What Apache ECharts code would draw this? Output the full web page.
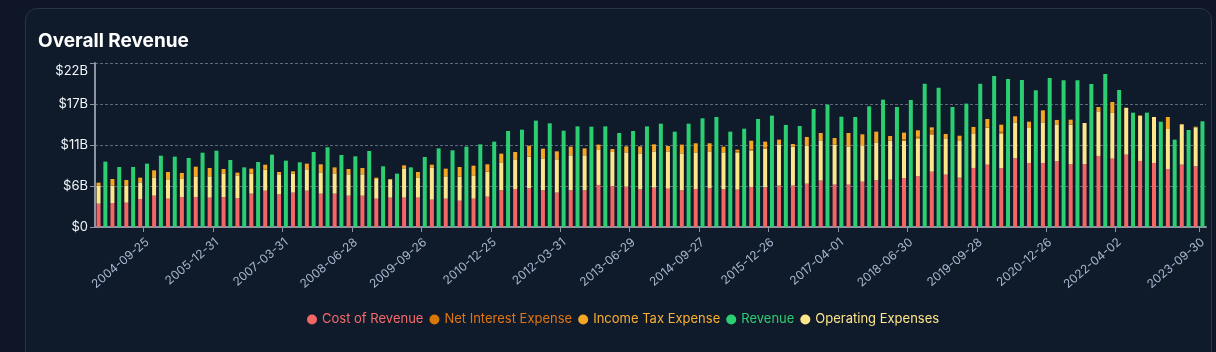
<!DOCTYPE html>
<html><head><meta charset="utf-8">
<script src="https://cdn.jsdelivr.net/npm/echarts@6/dist/echarts.min.js"></script>
<style>
html,body{margin:0;padding:0;background:#0e1627;width:1216px;height:352px;overflow:hidden;}
#card{position:absolute;left:25px;top:8px;width:1187px;height:370px;border:1px solid #283447;border-radius:12px;background:#0f1a2b;box-sizing:border-box;}
#chart{position:absolute;left:0;top:0;width:1216px;height:352px;}
</style></head><body>
<div id="card"></div><div id="chart"></div>
<script>
// Fiscal quarter end dates (categories)
const dates = ["2003-12-27","2004-03-27","2004-06-26","2004-09-25","2004-12-25","2005-04-02","2005-07-02","2005-10-01","2005-12-31","2006-04-01","2006-07-01","2006-09-30","2006-12-30","2007-03-31","2007-06-30","2007-09-29","2007-12-29","2008-03-29","2008-06-28","2008-09-27","2008-12-27","2009-03-28","2009-06-27","2009-09-26","2009-12-26","2010-03-27","2010-06-26","2010-09-25","2010-12-25","2011-04-02","2011-07-02","2011-10-01","2011-12-31","2012-03-31","2012-06-30","2012-09-29","2012-12-29","2013-03-30","2013-06-29","2013-09-28","2013-12-28","2014-03-29","2014-06-28","2014-09-27","2014-12-27","2015-03-28","2015-06-27","2015-09-26","2015-12-26","2016-04-02","2016-07-02","2016-10-01","2016-12-31","2017-04-01","2017-07-01","2017-09-30","2017-12-30","2018-03-31","2018-06-30","2018-09-29","2018-12-29","2019-03-30","2019-06-29","2019-09-28","2019-12-28","2020-03-28","2020-06-27","2020-09-26","2020-12-26","2021-03-27","2021-06-26","2021-09-25","2021-12-25","2022-04-02","2022-07-02","2022-10-01","2022-12-31","2023-04-01","2023-07-01","2023-09-30"];

// Values in billions of USD
const costOfRevenue = [3.13,3.22,3.26,3.76,4.20,3.80,4.02,4.02,3.94,4.02,3.85,4.47,4.87,4.38,4.61,4.87,4.47,4.47,4.20,4.20,3.80,3.94,3.94,3.94,3.67,3.80,3.53,3.80,4.07,4.92,5.10,5.19,4.92,4.61,4.92,4.92,5.64,5.50,5.41,5.05,5.28,5.14,4.92,5.10,5.19,5.05,5.01,5.37,5.32,5.55,5.55,5.81,6.22,5.68,5.68,6.08,6.26,6.35,6.57,6.80,7.42,7.02,6.62,7.92,8.36,7.87,9.21,8.59,8.59,8.81,8.41,8.45,9.53,9.17,9.70,8.86,8.59,7.74,8.36,8.14];
const operatingExpenses = [2.42,2.33,2.33,2.23,2.46,2.60,2.51,2.78,2.86,3.18,3.08,2.69,2.82,2.69,2.55,2.87,2.86,2.73,2.87,2.87,2.64,2.46,3.93,2.72,4.33,3.00,3.22,3.13,3.35,3.76,3.98,4.25,4.29,4.47,4.70,4.70,4.69,4.56,4.61,4.83,4.87,5.01,4.96,4.92,4.96,4.97,5.01,4.92,5.23,5.54,5.23,5.10,5.41,5.37,5.14,4.88,5.10,5.23,5.01,5.10,5.01,4.88,5.01,4.65,4.97,4.70,4.83,4.69,5.45,4.96,5.32,5.50,5.99,6.13,6.27,6.03,6.17,5.41,5.41,5.23];
const netInterestExpense = [0,0,0,0,0,0,0,0,0,0,0,0,0,0,0,0,0,0,0,0,0,0,0,0,0,0,0,0,0,0,0,0,0,0,0,0,0,0,0,0,0,0,0,0,0,0,0.15,0.09,0.18,0,0,0,0,0,0,0,0,0,0.2,0.2,0.5,0,0,0,0,0.2,0,0,0,0,0,0,0,0,0.05,0.1,0,0,0,0];
const incomeTaxExpense = [0.40,0.89,0.72,0.63,0.94,0.98,0.72,1.29,1.12,0.58,0.36,0.67,0.67,0.31,0.31,0.76,1.08,0.80,0.71,0.85,0.18,0.03,0.40,0.72,0.36,1.03,1.30,1.30,0.99,1.16,0.98,1.47,1.30,1.07,1.16,0.93,0.72,0.41,0.80,0.94,0.94,0.72,1.17,1.21,1.08,0.76,0.20,1.20,0.72,0.63,0.36,1.17,0.98,0.89,1.79,1.47,1.43,0.63,0.88,0.87,0.44,0.58,0.62,0.85,1.16,0.96,0.81,0.85,1.61,0.59,0.67,0,0.58,1.47,0,0,0,1.61,0.05,0.09];
const revenue = [8.77,8.05,8.05,8.50,9.57,9.44,9.26,9.97,10.24,8.99,8.00,8.72,9.70,8.90,8.68,10.06,10.69,9.66,9.48,10.20,8.14,7.16,8.00,9.39,10.55,10.29,10.78,11.09,11.45,12.88,13.06,14.27,13.91,12.92,13.50,13.46,13.50,12.61,12.88,13.50,13.86,12.79,13.86,14.58,14.76,12.79,13.19,14.49,14.94,13.69,13.55,15.83,16.41,14.80,14.76,16.19,17.08,16.10,17.04,19.23,18.69,16.10,16.55,19.23,20.26,19.86,19.72,18.34,19.99,19.68,19.68,19.19,20.53,18.38,15.34,15.34,14.13,11.72,13.01,14.18];

// Y axis range / step (billions)
const yMax = 22;
const yStep = 5.5;
// Indexes of labelled categories
const labelledIdx = [3,8,13,18,23,28,33,38,43,48,53,58,63,68,73,79];

const colors = {
  cost: '#f26666', opex: '#fde68a', interest: '#d97706', tax: '#f5a623', revenue: '#2bcf72'
};
const legendText = {
  cost: '#f46b6b', opex: '#fde68a', interest: '#e07512', tax: '#fbb033', revenue: '#2ecc71'
};

const chart = echarts.init(document.getElementById('chart'), null, {renderer: 'canvas'});
const barCommon = { type: 'bar', barWidth: 4, barGap: '70%', emphasis: {disabled: true} };
const showLabel = (i) => labelledIdx.indexOf(i) >= 0;

chart.setOption({
  backgroundColor: 'transparent',
  animation: false,
  textStyle: { fontFamily: 'Inter, "Noto Sans", sans-serif' },
  title: {
    text: 'Overall Revenue', left: 38, top: 32, padding: 0,
    textStyle: { color: '#ffffff', fontSize: 19, fontWeight: 'bold', fontFamily: 'Inter' }
  },
  legend: {
    left: 302, top: 308, icon: 'circle', itemWidth: 10, itemHeight: 10, itemGap: 6,
    textStyle: { fontSize: 13, fontFamily: 'Inter' },
    data: [
      { name: 'Cost of Revenue', textStyle: { color: legendText.cost } },
      { name: 'Net Interest Expense', textStyle: { color: legendText.interest } },
      { name: 'Income Tax Expense', textStyle: { color: legendText.tax } },
      { name: 'Revenue', textStyle: { color: legendText.revenue } },
      { name: 'Operating Expenses', textStyle: { color: legendText.opex } }
    ]
  },
  grid: { left: 95, right: 10, top: 63, bottom: 125, containLabel: false },
  xAxis: {
    type: 'category', data: dates, boundaryGap: true,
    axisLine: { lineStyle: { color: '#8a94a3', width: 2 } },
    axisTick: { show: true, alignWithLabel: true, interval: showLabel, length: 5, lineStyle: { color: '#8a94a3' } },
    axisLabel: { interval: showLabel, rotate: 40, color: '#a7b6cc', fontSize: 12, margin: 9, verticalAlign: 'top', fontFamily: 'Inter' }
  },
  yAxis: {
    type: 'value', min: 0, max: yMax, interval: yStep,
    axisLine: { show: true, lineStyle: { color: '#8a94a3', width: 2 } },
    axisTick: { show: true, length: 5, lineStyle: { color: '#8a94a3' } },
    axisLabel: { color: '#f1f5f9', fontSize: 13, margin: 7, fontFamily: 'Inter',
      formatter: (v) => {
        const s = v === 0 ? '$0' : '$' + Math.round(v) + 'B';
        return v === yMax ? '{t|' + s + '}' : s;
      },
      rich: { t: { color: '#f1f5f9', fontSize: 13, fontFamily: 'Inter', padding: [16, 0, 0, 0] } }
    },
    splitLine: { show: true, lineStyle: { color: 'rgba(160,170,185,0.55)', type: [3, 2], width: 1 } }
  },
  series: [
    Object.assign({}, barCommon, { name: 'Cost of Revenue', stack: 'exp', data: costOfRevenue, itemStyle: { color: colors.cost } }),
    Object.assign({}, barCommon, { name: 'Operating Expenses', stack: 'exp', data: operatingExpenses, itemStyle: { color: colors.opex } }),
    Object.assign({}, barCommon, { name: 'Net Interest Expense', stack: 'exp', data: netInterestExpense, itemStyle: { color: colors.interest } }),
    Object.assign({}, barCommon, { name: 'Income Tax Expense', stack: 'exp', data: incomeTaxExpense, itemStyle: { color: colors.tax } }),
    Object.assign({}, barCommon, { name: 'Revenue', stack: 'rev', data: revenue, itemStyle: { color: colors.revenue } })
  ]
});
</script>
</body></html>
